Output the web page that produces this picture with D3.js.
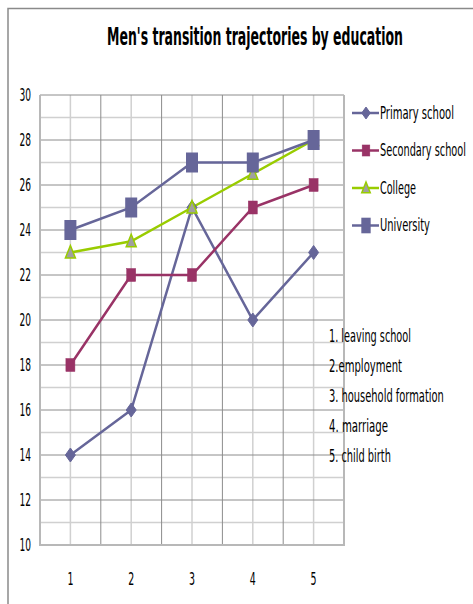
<!DOCTYPE html>
<html><head><meta charset="utf-8">
<script src="https://cdn.jsdelivr.net/npm/d3@7"></script>
<style>body{margin:0;background:#fff}svg{display:block}text{font-family:"Liberation Sans Narrow","DejaVu Sans Condensed","Liberation Sans",sans-serif}</style>
</head><body><svg id="c" width="473" height="604"></svg>
<script>
const categories = ["1","2","3","4","5"];
const primary = [14,16,25,20,23];
const secondary = [18,22,22,25,26];
const college = [23,23.5,25,26.5,28];
const university = [24,25,27,27,28];
const seriesNames = ["Primary school","Secondary school","College","University"];
const yTicks = [10,12,14,16,18,20,22,24,26,28,30];
const notes = ["1. leaving school","2.employment","3. household formation","4. marriage","5. child birth"];

const svg = d3.select("#c");
const m = {l:40, r:344, t:95, b:545};
const x = d3.scaleBand().domain(categories).range([m.l, m.r]);
const y = d3.scaleLinear().domain([10,30]).range([m.b, m.t]);

// squeeze text horizontally to a target width, anchored at its anchor x
function fit(t, w){
  const n = t.node();
  const nat = n.getComputedTextLength();
  const k = w / nat;
  const ax = +t.attr("x");
  t.attr("transform", `translate(${ax},0) scale(${k},1) translate(${-ax},0)`);
  return t;
}

// outer frame
svg.append("path").attr("d","M8,604V8.5H473").attr("fill","none").attr("stroke","#8a8a8a").attr("stroke-width",1.5);

// title
fit(svg.append("text").attr("x",255).attr("y",45).attr("text-anchor","middle")
  .attr("font-size",25).attr("font-weight","bold").attr("fill","#000")
  .text("Men's transition trajectories by education"), 296);

const g = svg.append("g");
d3.range(11,30,2).forEach(v=>{
  g.append("line").attr("x1",m.l).attr("x2",m.r).attr("y1",y(v)).attr("y2",y(v)).attr("stroke","#d0d0d0").attr("stroke-width",1.5);
});
categories.forEach(c=>{
  const cx = x(c)+x.bandwidth()/2;
  g.append("line").attr("x1",cx).attr("x2",cx).attr("y1",m.t).attr("y2",m.b).attr("stroke","#d0d0d0").attr("stroke-width",1.5);
});
yTicks.forEach(v=>{
  g.append("line").attr("x1",m.l).attr("x2",m.r).attr("y1",y(v)).attr("y2",y(v)).attr("stroke","#8c8c8c").attr("stroke-width",1);
});
categories.concat(["end"]).forEach((c,i)=>{
  const bx = i<categories.length ? x(c) : m.r;
  g.append("line").attr("x1",bx).attr("x2",bx).attr("y1",m.t).attr("y2",m.b).attr("stroke","#8c8c8c").attr("stroke-width",1);
});
g.append("path").attr("d",`M${m.l},${m.t}V${m.b}H${m.r}V${m.t}`).attr("fill","none").attr("stroke","#b8b8b8").attr("stroke-width",2);

// axis labels
yTicks.forEach(v=>{
  fit(svg.append("text").attr("x",31).attr("y",y(v)+6).attr("text-anchor","end").attr("font-size",17).attr("fill","#000").text(v), 11.5);
});
categories.forEach(c=>{
  fit(svg.append("text").attr("x",x(c)+x.bandwidth()/2).attr("y",585).attr("text-anchor","middle").attr("font-size",17).attr("fill","#000").text(c), 6);
});

function marker(sel, type, cx, cy, s){
  if(type==="diamond"){
    sel.append("path").attr("d",`M${cx},${cy-7*s}L${cx+5*s},${cy}L${cx},${cy+7*s}L${cx-5*s},${cy}Z`).attr("fill","#666699").attr("stroke","#666699");
  } else if(type==="square"){
    sel.append("rect").attr("x",cx-4.5*s).attr("y",cy-6.5*s).attr("width",9*s).attr("height",13*s).attr("fill","#993366").attr("stroke","#993366").attr("stroke-width",0.5);
  } else if(type==="tri"){
    sel.append("path").attr("d",`M${cx},${cy-7*s}L${cx+5*s},${cy+5.5*s}L${cx-5*s},${cy+5.5*s}Z`).attr("fill","#a0a0a0").attr("stroke","#99cc00").attr("stroke-width",1.5);
  } else if(type==="usq"){
    sel.append("rect").attr("x",cx-6*s).attr("y",cy-10*s).attr("width",12*s).attr("height",20*s).attr("fill","#666699");
  }
}

const series = [
  {name:seriesNames[0], vals:primary, color:"#666699", m:"diamond"},
  {name:seriesNames[1], vals:secondary, color:"#993366", m:"square"},
  {name:seriesNames[2], vals:college, color:"#99cc00", m:"tri"},
  {name:seriesNames[3], vals:university, color:"#666699", m:"usq"}
];
const line = d3.line().x((d,i)=>x(categories[i])+x.bandwidth()/2).y(d=>y(d));
series.forEach(s=>{
  svg.append("path").datum(s.vals).attr("d",line).attr("fill","none").attr("stroke",s.color).attr("stroke-width",2.5);
});
series.forEach(s=>{
  const mg = svg.append("g");
  s.vals.forEach((v,i)=>marker(mg,s.m,x(categories[i])+x.bandwidth()/2,y(v),1));
});

// legend
const legW = [74,86,36,50];
series.forEach((s,i)=>{
  const ly = 113 + i*37.5;
  svg.append("line").attr("x1",352).attr("x2",379).attr("y1",ly).attr("y2",ly).attr("stroke",s.color).attr("stroke-width",2.5);
  marker(svg,s.m,366,ly, s.m==="usq"?0.78:0.85);
  fit(svg.append("text").attr("x",380).attr("y",ly+6).attr("font-size",17).attr("fill","#000").text(s.name), legW[i]);
});

// notes
const noteW = [82,73,115,59,62];
notes.forEach((t,i)=>{
  fit(svg.append("text").attr("x",329).attr("y",342+i*30).attr("font-size",17).attr("fill","#000").text(t), noteW[i]);
});
</script></body></html>
